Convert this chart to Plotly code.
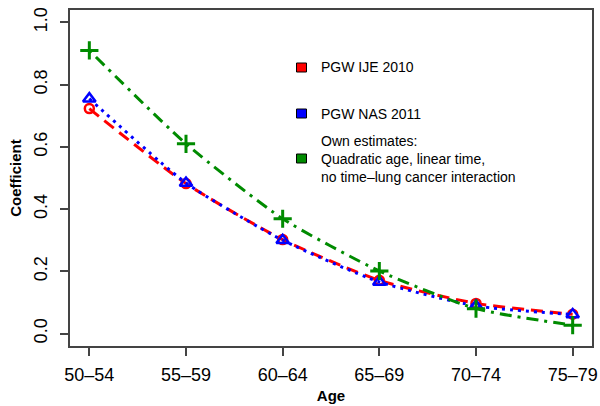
import plotly.graph_objects as go

age_groups = ["50–54", "55–59", "60–64", "65–69", "70–74", "75–79"]
pgw_ije_2010 = [0.723, 0.482, 0.302, 0.171, 0.097, 0.062]
pgw_nas_2011 = [0.755, 0.484, 0.300, 0.166, 0.089, 0.061]
own_estimates = [0.910, 0.610, 0.369, 0.201, 0.080, 0.027]

legend_labels = ["PGW IJE 2010", "PGW NAS 2011",
                 "Own estimates:<br>Quadratic age, linear time,<br>no time–lung cancer interaction"]
colors = ["#FF0000", "#0000FF", "#008B00"]
y_ticks = [0.0, 0.2, 0.4, 0.6, 0.8, 1.0]

FONT = "Liberation Sans, Arial, Helvetica, sans-serif"
xi = list(range(len(age_groups)))

fig = go.Figure()
fig.add_trace(go.Scatter(
    x=xi, y=pgw_ije_2010, mode="lines+markers",
    line=dict(color=colors[0], width=3, dash="12px,7px", shape="spline", smoothing=0.6),
    marker=dict(symbol="circle-open", size=9, color=colors[0], line=dict(width=2.5, color=colors[0])),
    showlegend=False))
fig.add_trace(go.Scatter(
    x=xi, y=pgw_nas_2011, mode="lines+markers",
    line=dict(color=colors[1], width=3, dash="3px,5px", shape="spline", smoothing=0.6),
    marker=dict(symbol="triangle-up-open", size=11, color=colors[1], line=dict(width=2.5, color=colors[1])),
    showlegend=False))
fig.add_trace(go.Scatter(
    x=xi, y=own_estimates, mode="lines+markers",
    line=dict(color=colors[2], width=3, dash="3px,6px,12px,6px", shape="spline", smoothing=0.6),
    marker=dict(symbol="cross-thin-open", size=13, color=colors[2], line=dict(width=3, color=colors[2])),
    showlegend=False))

FW, FH = 600, 406
L, W, T, H = 70, 522, 10, 336   # plot area in pixels
def px(x):
    return (x - L) / W
def py(y):
    return 1 - (y - T) / H

legend_y = [67.5, 113.5, 158.5]
for c, lab, yc in zip(colors, legend_labels, legend_y):
    fig.add_shape(type="rect", xref="paper", yref="paper",
                  x0=px(296.5), x1=px(306.5), y0=py(yc + 4.5), y1=py(yc - 4.5),
                  fillcolor=c, line=dict(color="black", width=1))
    fig.add_annotation(xref="paper", yref="paper", x=px(319), y=py(yc),
                       text=lab, showarrow=False, xanchor="left", yanchor="middle",
                       align="left", font=dict(family=FONT, size=14, color="black"))

fig.update_layout(
    width=FW, height=FH,
    margin=dict(l=L, r=FW - L - W, t=T, b=FH - T - H),
    plot_bgcolor="white", paper_bgcolor="white",
    font=dict(family=FONT, color="black"),
    xaxis=dict(range=[-0.2, 5.2], tickmode="array", tickvals=xi, ticktext=age_groups,
               automargin=False,
               showgrid=False, zeroline=False, showline=True, mirror=True,
               linecolor="#444444", linewidth=1.5, ticks="outside", ticklen=8,
               tickcolor="#444444", tickwidth=1.5, tickfont=dict(size=18, color="black"),
               ticklabelstandoff=4,
               title=dict(text="<b>Age</b>", font=dict(size=15), standoff=6)),
    yaxis=dict(range=[-0.04, 1.04], tickmode="array", tickvals=y_ticks,
               ticktext=[f"{v:.1f}" for v in y_ticks], tickangle=-90,
               automargin=False,
               showgrid=False, zeroline=False, showline=True, mirror=True,
               linecolor="#444444", linewidth=1.5, ticks="outside", ticklen=8,
               tickcolor="#444444", tickwidth=1.5, tickfont=dict(size=18, color="black"),
               ticklabelstandoff=6,
               title=dict(text="<b>Coefficient</b>", font=dict(size=15), standoff=6)),
)

fig.write_html(
    "out.html",
    config={"displayModeBar": False},
    post_script="document.documentElement.style.margin='0';"
                "document.body.style.margin='0';"
                "document.body.style.overflow='hidden';",
)
